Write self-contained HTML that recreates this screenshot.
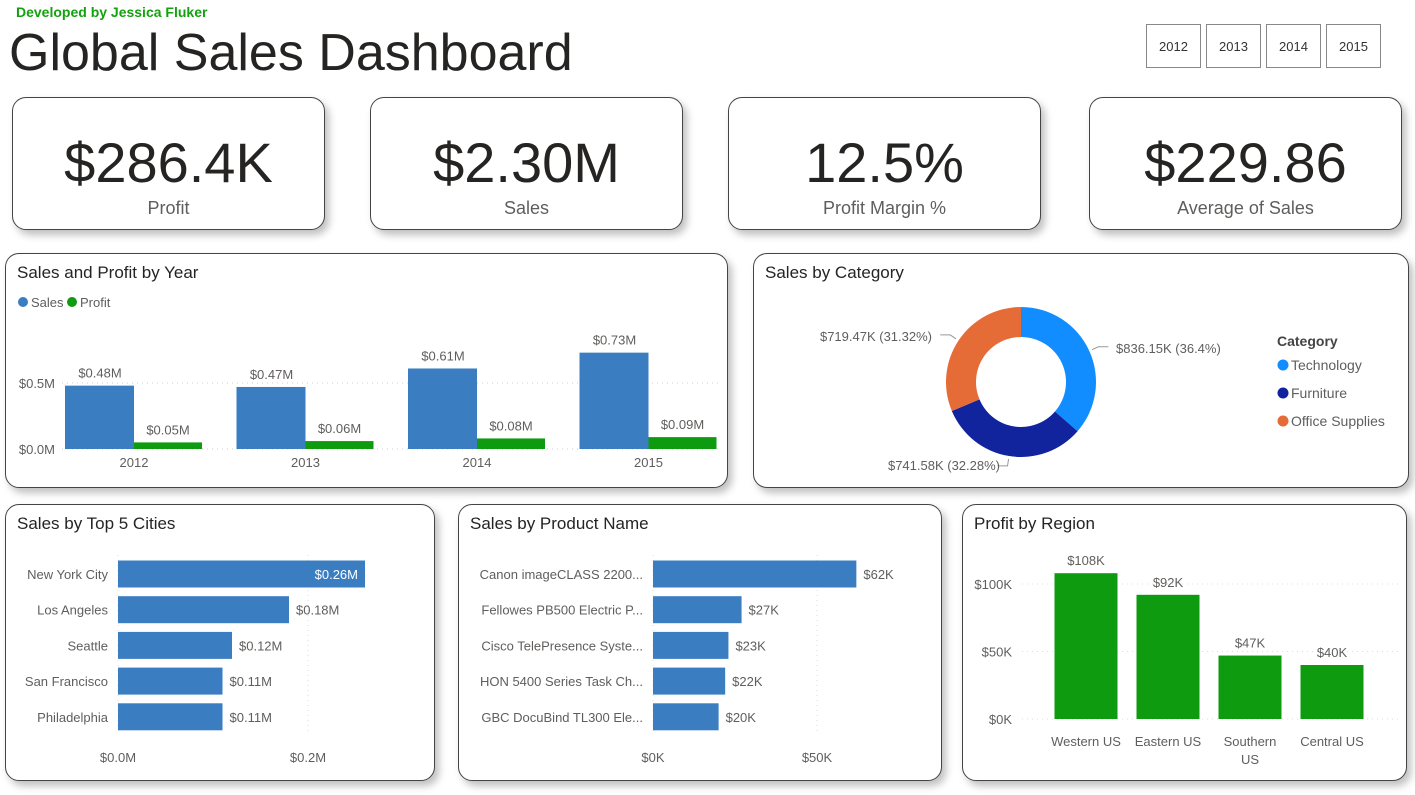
<!DOCTYPE html>
<html><head><meta charset="utf-8"><style>
body{margin:0;width:1415px;height:795px;background:#fff;font-family:"Liberation Sans",sans-serif;overflow:hidden;position:relative}
.abs{position:absolute}
.card{position:absolute;border:1.5px solid #444;border-radius:14px;background:#fff;box-shadow:4px 5px 8px rgba(0,0,0,.25);box-sizing:border-box}
.kpi .v{position:absolute;left:0;right:0;top:32px;text-align:center;font-size:56px;color:#252423}
.kpi .l{position:absolute;left:0;right:0;top:100px;text-align:center;font-size:18px;color:#605e5c}
.yb{position:absolute;top:24px;width:55px;height:44px;border:1px solid #888;box-sizing:border-box;font-size:13px;color:#333;text-align:center;line-height:44px}
.ttl{position:absolute;left:11px;top:9px;font-size:17px;color:#252423}
svg text{font-family:"Liberation Sans",sans-serif}
</style></head><body>
<div class="abs" style="left:16px;top:4px;font-size:14px;font-weight:bold;color:#13a10e">Developed by Jessica Fluker</div>
<div class="abs" style="left:9px;top:23px;font-size:52px;color:#252423">Global Sales Dashboard</div>
<div class="yb" style="left:1146px">2012</div>
<div class="yb" style="left:1206px">2013</div>
<div class="yb" style="left:1266px">2014</div>
<div class="yb" style="left:1326px">2015</div>

<div class="card kpi" style="left:12px;top:97px;width:313px;height:133px"><div class="v">$286.4K</div><div class="l">Profit</div></div>
<div class="card kpi" style="left:370px;top:97px;width:313px;height:133px"><div class="v">$2.30M</div><div class="l">Sales</div></div>
<div class="card kpi" style="left:728px;top:97px;width:313px;height:133px"><div class="v">12.5%</div><div class="l">Profit Margin %</div></div>
<div class="card kpi" style="left:1089px;top:97px;width:313px;height:133px"><div class="v">$229.86</div><div class="l">Average of Sales</div></div>

<div class="card" style="left:5px;top:253px;width:723px;height:235px"><div class="ttl">Sales and Profit by Year</div></div>
<div class="card" style="left:753px;top:253px;width:656px;height:235px"><div class="ttl">Sales by Category</div></div>
<div class="card" style="left:5px;top:504px;width:430px;height:277px"><div class="ttl">Sales by Top 5 Cities</div></div>
<div class="card" style="left:458px;top:504px;width:484px;height:277px"><div class="ttl">Sales by Product Name</div></div>
<div class="card" style="left:962px;top:504px;width:445px;height:277px"><div class="ttl">Profit by Region</div></div>

<svg id="s" class="abs" style="left:0;top:0" width="1415" height="795"></svg>
<script>
const years=["2012","2013","2014","2015"];
const salesY=[0.48,0.47,0.61,0.73];
const profitY=[0.05,0.06,0.08,0.09];
const yearTicks=[0,0.5];
const catNames=["Technology","Furniture","Office Supplies"];
const catVals=[836.15,741.58,719.47];
const catLabels=["$836.15K (36.4%)","$741.58K (32.28%)","$719.47K (31.32%)"];
const cities=["New York City","Los Angeles","Seattle","San Francisco","Philadelphia"];
const cityVals=[0.26,0.18,0.12,0.11,0.11];
const cityTicks=[0,0.2];
const products=["Canon imageCLASS 2200...","Fellowes PB500 Electric P...","Cisco TelePresence Syste...","HON 5400 Series Task Ch...","GBC DocuBind TL300 Ele..."];
const prodVals=[62,27,23,22,20];
const prodTicks=[0,50];
const regions=["Western US","Eastern US","Southern US","Central US"];
const regionVals=[108,92,47,40];
const regionTicks=[0,50,100];

const S=document.getElementById('s');const NS="http://www.w3.org/2000/svg";
function mk(t,a,txt){const e=document.createElementNS(NS,t);for(const k in a)e.setAttribute(k,a[k]);if(txt!==undefined)e.textContent=txt;S.appendChild(e);return e;}
const G="#605e5c";
const yY=v=>449-v*132, xY=i=>134+i*171.5;
yearTicks.forEach(t=>{let l=mk('line',{x1:62,x2:720,y1:yY(t),y2:yY(t),stroke:'#ccc','stroke-dasharray':'1 4'});
let tx=mk('text',{x:55,y:yY(t)+5,'text-anchor':'end','font-size':13,fill:G},'$'+t.toFixed(1)+'M');});
let c1=mk('circle',{cx:23,cy:302,r:5,fill:'#3a7dc1'});
mk('text',{x:31,y:307,'font-size':13,fill:G},'Sales');
let c2=mk('circle',{cx:72,cy:302,r:5,fill:'#0f9b0f'});
mk('text',{x:80,y:307,'font-size':13,fill:G},'Profit');
years.forEach((y,i)=>{const x=xY(i);
let b=mk('rect',{x:x-69,y:yY(salesY[i]),width:69,height:salesY[i]*132,fill:'#3a7dc1'});
let p=mk('rect',{x:x,y:yY(profitY[i]),width:68,height:profitY[i]*132,fill:'#0f9b0f'});
mk('text',{x:x-34,y:yY(salesY[i])-8,'text-anchor':'middle','font-size':13,fill:G},'$'+salesY[i].toFixed(2)+'M');
mk('text',{x:x+34,y:yY(profitY[i])-8,'text-anchor':'middle','font-size':13,fill:G},'$'+profitY[i].toFixed(2)+'M');
let t=mk('text',{x:x,y:467,'text-anchor':'middle','font-size':13,fill:G},y);});
const cx=1021,cy=382,R=75,r=45,cols=["#118dff","#12239e","#e66c37"];
const tot=catVals.reduce((a,b)=>a+b,0);let a0=0;
const lpos=[[1116,353,'start'],[1000,470,'end'],[932,341,'end']];
catVals.forEach((v,i)=>{const a1=a0+v/tot*2*Math.PI;
const P=(rad,a)=>[cx+rad*Math.sin(a),cy-rad*Math.cos(a)];const lg=(a1-a0)>Math.PI?1:0;
const [x1,y1]=P(R,a0),[x2,y2]=P(R,a1),[x3,y3]=P(r,a1),[x4,y4]=P(r,a0);
let s=mk('path',{d:`M${x1},${y1}A${R},${R} 0 ${lg} 1 ${x2},${y2}L${x3},${y3}A${r},${r} 0 ${lg} 0 ${x4},${y4}Z`,fill:cols[i]});

const am=(a0+a1)/2;const [lx,ly]=P(R+3,am);const [mx,my]=P(R+10,am);const ex=lpos[i][2]=='start'?mx+10:mx-10;
mk('polyline',{points:`${lx},${ly} ${mx},${my} ${ex},${my}`,fill:'none',stroke:'#999'});
mk('text',{x:lpos[i][0],y:lpos[i][1],'text-anchor':lpos[i][2],'font-size':13,fill:G},catLabels[i]);
a0=a1;});
mk('text',{x:1277,y:346,'font-size':14,'font-weight':'bold',fill:'#444'},'Category');
catNames.forEach((n,i)=>{let d=mk('circle',{cx:1283,cy:365+i*28,r:5.5,fill:cols[i]});
mk('text',{x:1291,y:370+i*28,'font-size':14,fill:G},n);});
const rowY=i=>574+i*35.7;
function hbar(names,vals,ticks,x0,scale,fmt,tfmt,key,inside){
 ticks.forEach(t=>{const x=x0+t*scale;mk('line',{x1:x,x2:x,y1:555,y2:735,stroke:'#ddd','stroke-dasharray':'1 4'});
 let tx=mk('text',{x:x,y:762,'text-anchor':'middle','font-size':13,fill:G},tfmt(t));});
 names.forEach((n,i)=>{const w=vals[i]*scale,y=rowY(i);
 let b=mk('rect',{x:x0,y:y-13.5,width:w,height:27,fill:'#3a7dc1'});
 mk('text',{x:x0-10,y:y+5,'text-anchor':'end','font-size':13,fill:G},n);
 if(inside&&i==0)mk('text',{x:x0+w-7,y:y+5,'text-anchor':'end','font-size':13,fill:'#fff'},fmt(vals[i]));
 else mk('text',{x:x0+w+7,y:y+5,'font-size':13,fill:G},fmt(vals[i]));});
}
hbar(cities,cityVals,cityTicks,118,950,v=>'$'+v.toFixed(2)+'M',t=>'$'+t.toFixed(1)+'M','city',true);
hbar(products,prodVals,prodTicks,653,3.28,v=>'$'+v+'K',t=>'$'+t+'K','product',false);
const yR=v=>719-v*1.35,xR=i=>1086+i*82;
regionTicks.forEach(t=>{mk('line',{x1:1022,x2:1400,y1:yR(t),y2:yR(t),stroke:'#ddd','stroke-dasharray':'1 4'});
let tx=mk('text',{x:1012,y:yR(t)+5,'text-anchor':'end','font-size':13,fill:G},'$'+t+'K');});
regions.forEach((n,i)=>{const x=xR(i);
let b=mk('rect',{x:x-31.5,y:yR(regionVals[i]),width:63,height:regionVals[i]*1.35,fill:'#0f9b0f'});
mk('text',{x:x,y:yR(regionVals[i])-8,'text-anchor':'middle','font-size':13,fill:G},'$'+regionVals[i]+'K');
const parts=n==='Southern US'?['Southern','US']:[n];
parts.forEach((p,j)=>mk('text',{x:x,y:746+j*18,'text-anchor':'middle','font-size':13,fill:G},p));});
</script>
</body></html>
